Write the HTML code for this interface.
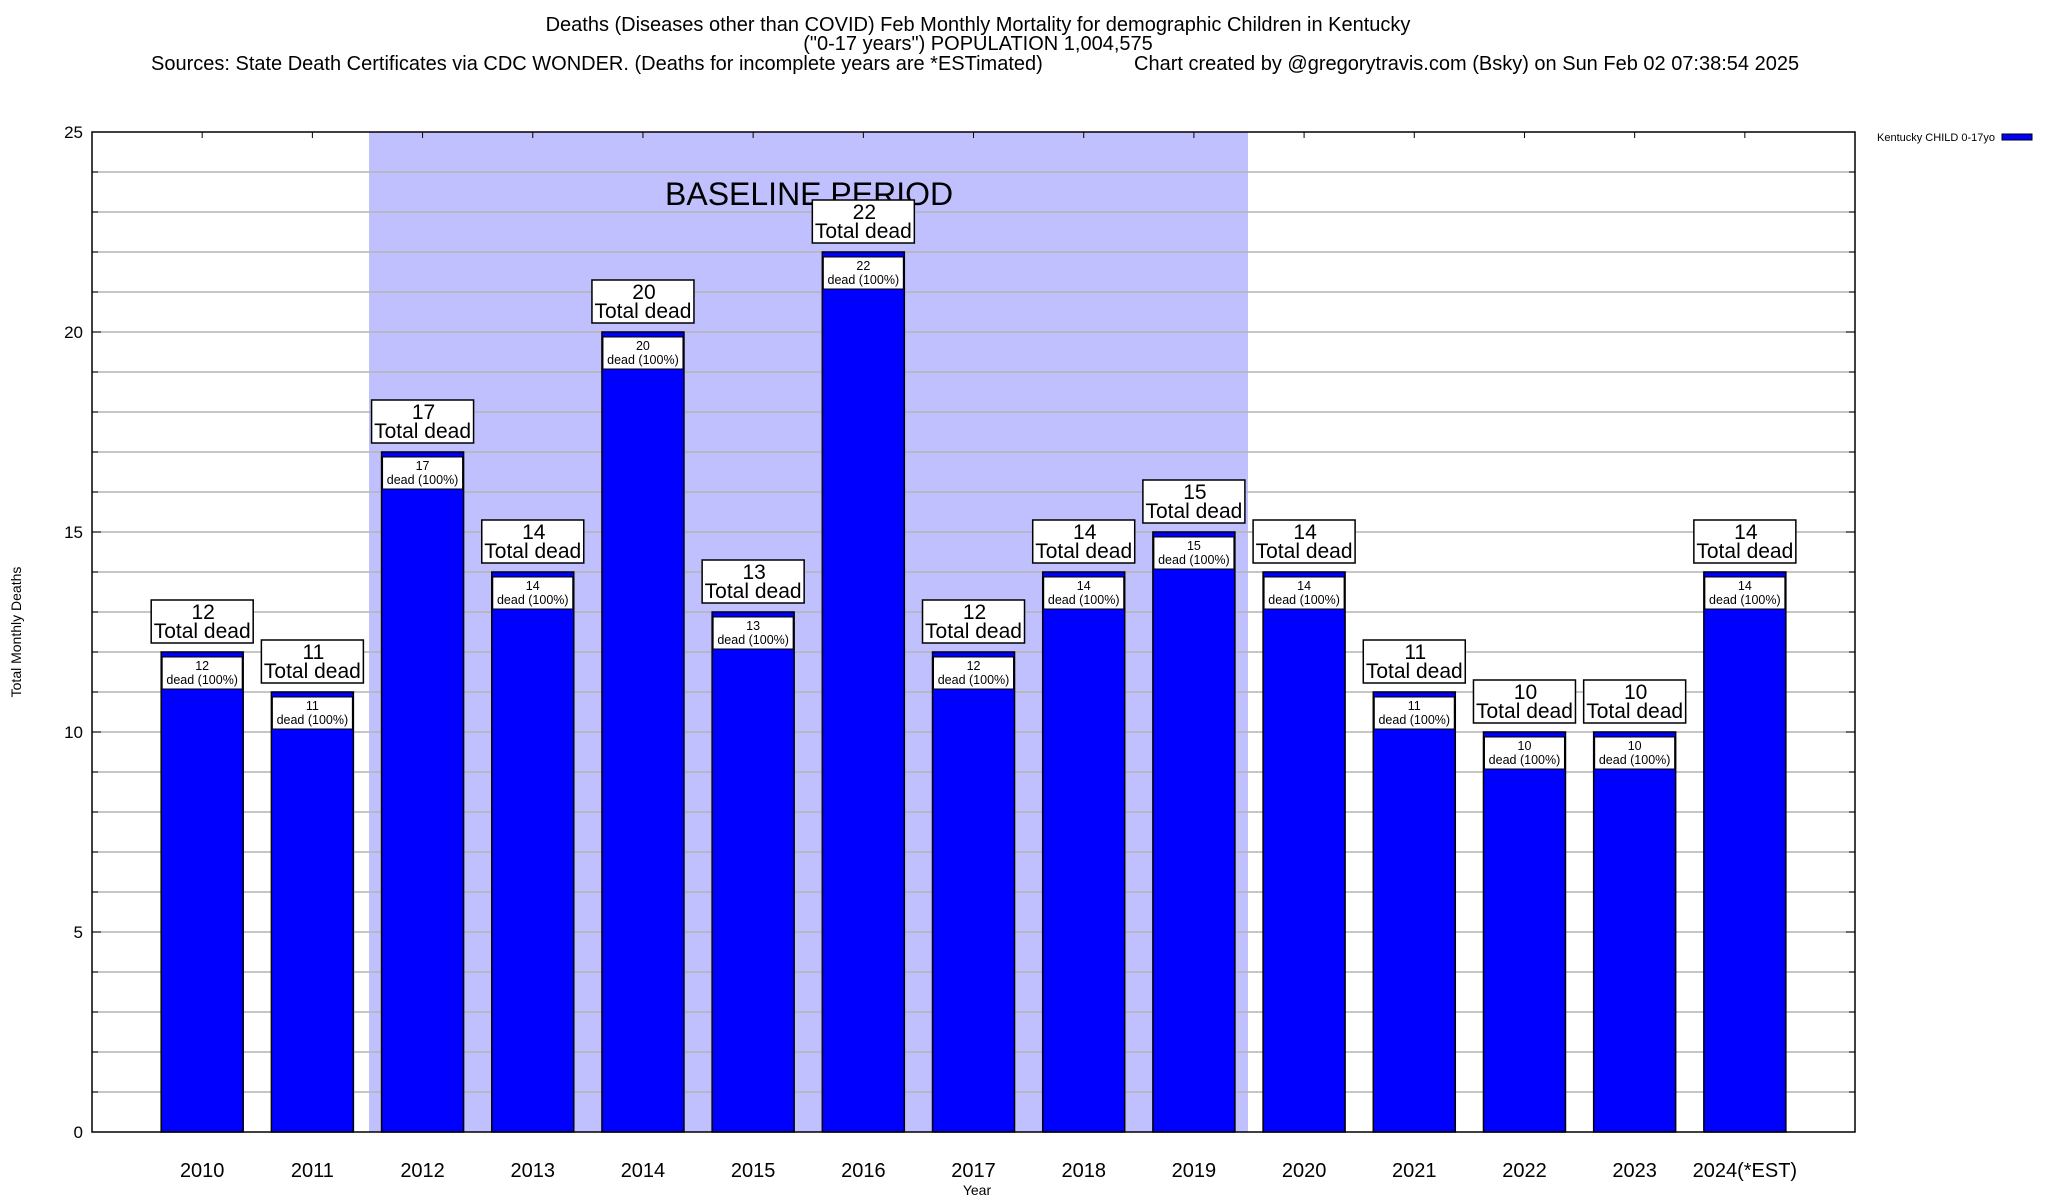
<!DOCTYPE html>
<html><head><meta charset="utf-8"><style>body{margin:0;background:#fff}svg{display:block}</style></head>
<body>
<svg id="s" width="2048" height="1200" xmlns="http://www.w3.org/2000/svg" font-family="Liberation Sans, sans-serif">
<rect width="2048" height="1200" fill="#fff"/>
<text x="978" y="31" font-size="20" text-anchor="middle">Deaths (Diseases other than COVID) Feb Monthly Mortality for demographic Children in Kentucky</text>
<text x="978" y="50" font-size="20" text-anchor="middle">("0-17 years") POPULATION 1,004,575</text>
<text x="151" y="70" font-size="20">Sources: State Death Certificates via CDC WONDER. (Deaths for incomplete years are *ESTimated)</text>
<text x="1134" y="70" font-size="20">Chart created by @gregorytravis.com (Bsky) on Sun Feb 02 07:38:54 2025</text>
<rect x="369" y="132" width="879" height="1000" fill="#c0c0ff"/>
<g id="grid"></g>
<text x="665" y="205" font-size="32">BASELINE PERIOD</text>
<g id="bars"></g>
<rect x="92" y="132" width="1763" height="1000" fill="none" stroke="#000" stroke-width="1.5"/>
<text transform="translate(21,632) rotate(-90)" font-size="14" text-anchor="middle">Total Monthly Deaths</text>
<text x="977" y="1195" font-size="14" text-anchor="middle">Year</text>
<text x="1995" y="141" font-size="11" text-anchor="end">Kentucky CHILD 0-17yo</text>
<rect x="2002" y="134" width="30" height="6" fill="#00f" stroke="#000" stroke-width="1"/>
</svg>
<script>
const ns="http://www.w3.org/2000/svg";
function el(p,t,a,txt){const e=document.createElementNS(ns,t);for(const k in a)e.setAttribute(k,a[k]);if(txt!==undefined)e.textContent=txt;p.appendChild(e);return e;}
const g=document.getElementById('grid'),b=document.getElementById('bars');
const Y=v=>1132-v*40, X=i=>92+(i+1)*110.19;
for(let v=1;v<25;v++){el(g,'line',{x1:92,x2:1855,y1:Y(v),y2:Y(v),stroke:'#b4b4b4','stroke-width':1.5});}
for(let v=0;v<=25;v++){const l=v%5==0?9:6;el(g,'line',{x1:92,x2:92+l,y1:Y(v),y2:Y(v),stroke:'#000'});el(g,'line',{x1:1855,x2:1855-l,y1:Y(v),y2:Y(v),stroke:'#000'});}
for(let v=0;v<=25;v+=5)el(g,'text',{x:83,y:Y(v)+6,'font-size':17,'text-anchor':'end'},String(v));
const d=[12,11,17,14,20,13,22,12,14,15,14,11,10,10,14];
const labs=["2010","2011","2012","2013","2014","2015","2016","2017","2018","2019","2020","2021","2022","2023","2024(*EST)"];
d.forEach((v,i)=>{const c=X(i),t=Y(v);
el(g,'line',{x1:c,x2:c,y1:132,y2:138,stroke:'#000'});el(g,'line',{x1:c,x2:c,y1:1132,y2:1126,stroke:'#000'});
el(b,'rect',{x:c-41,y:t,width:82,height:1132-t,fill:'#00f',stroke:'#000','stroke-width':1.5});
el(b,'rect',{x:c-40,y:t+5,width:80,height:32,fill:'#fff',stroke:'#000','stroke-width':1});
el(b,'text',{x:c,y:t+18,'font-size':12.5,'text-anchor':'middle'},String(v));
el(b,'text',{x:c,y:t+32,'font-size':12.5,'text-anchor':'middle'},'dead (100%)');
el(b,'rect',{x:c-51,y:t-52,width:102,height:43,fill:'#fff',stroke:'#000','stroke-width':1.5});
el(b,'text',{x:c+1,y:t-33,'font-size':21,'text-anchor':'middle'},String(v));
el(b,'text',{x:c,y:t-14,'font-size':21,'text-anchor':'middle'},'Total dead');
el(b,'text',{x:c,y:1177,'font-size':20,'text-anchor':'middle'},labs[i]);
});
</script>
</body></html>
